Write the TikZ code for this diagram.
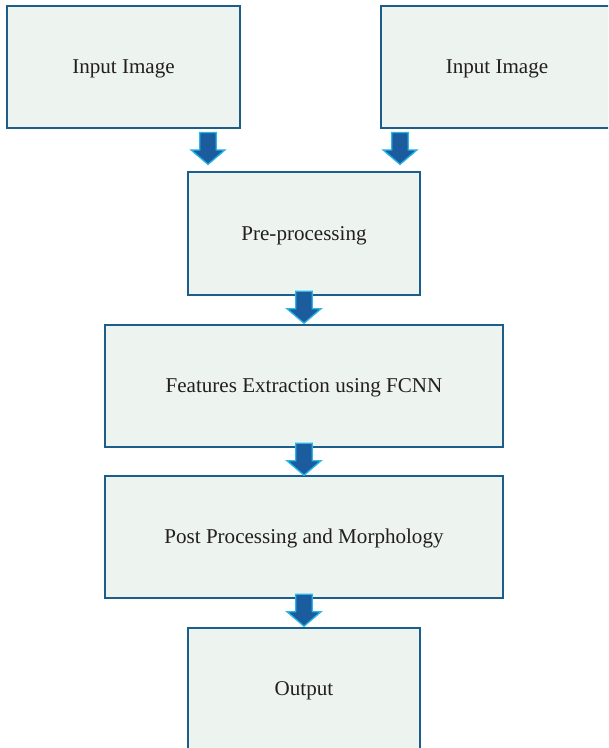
\documentclass[tikz,border=0pt]{standalone}
\usepackage{fontspec}
\setmainfont{Liberation Serif}
\usepackage{tikz}
\usetikzlibrary{calc}

\definecolor{boxfill}{HTML}{EDF3EF}
\definecolor{boxline}{HTML}{1B5E8C}
\definecolor{arrfill}{HTML}{1B5C9E}
\definecolor{arrline}{HTML}{2AB6E8}
\definecolor{txt}{HTML}{231F20}

\tikzset{
  stage/.style={draw=boxline, fill=boxfill, line width=1.1pt, text=txt,
    font=\fontsize{15.8}{18}\selectfont, inner sep=0pt,
    text height=11pt, text depth=1pt},
  downarr/.pic={
    \draw[fill=arrfill, draw=arrline, line width=1pt, line join=miter]
      (-8.3,0) -- (8.3,0) -- (8.3,-17.5) -- (17,-17.5) -- (0,-32)
      -- (-17,-17.5) -- (-8.3,-17.5) -- cycle;
  }
}

\begin{document}
\begin{tikzpicture}[x=0.75pt,y=0.75pt,yscale=-1,xscale=1]
  \useasboundingbox (0,0) rectangle (608,748);
  \clip (0,0) rectangle (608,748);
  % boxes
  \node[stage, minimum width=174.75pt, minimum height=91.5pt] (in1) at (123.5,67) {Input Image};
  \node[stage, minimum width=174pt, minimum height=91.5pt] (in2) at (497,67) {Input Image};
  \node[stage, minimum width=174pt, minimum height=92pt] (pre) at (304,233.5) {Pre-processing};
  \node[stage, minimum width=298.5pt, minimum height=91.5pt] (feat) at (304,386) {Features Extraction using FCNN};
  \node[stage, minimum width=298.5pt, minimum height=91.5pt] (post) at (304,537) {Post Processing and Morphology};
  \node[stage, minimum width=174pt, minimum height=91.5pt] (out) at (304,689) {Output};
  % block arrows
  \pic at ($(pre.north)+(-96,-39)$) {downarr};
  \pic at ($(pre.north)+(96,-39)$) {downarr};
  \pic at ($(feat.north)+(0,-33)$) {downarr};
  \pic at ($(post.north)+(0,-32)$) {downarr};
  \pic at ($(out.north)+(0,-33)$) {downarr};
\end{tikzpicture}
\end{document}
